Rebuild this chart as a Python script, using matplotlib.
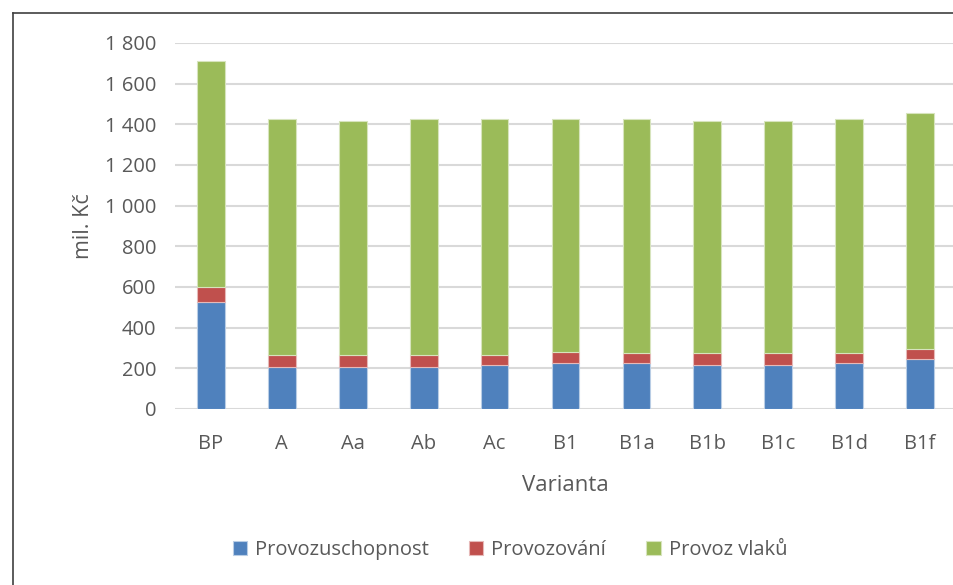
import numpy as np
import matplotlib.pyplot as plt
from matplotlib.lines import Line2D

varianty = ['BP', 'A', 'Aa', 'Ab', 'Ac', 'B1', 'B1a', 'B1b', 'B1c', 'B1d', 'B1f']
provozuschopnost = [525, 208, 208, 208, 218, 228, 228, 218, 218, 228, 246]
provozovani = [77, 59, 59, 59, 49, 51, 49, 59, 59, 49, 51]
celkem = [1712, 1427, 1418, 1427, 1427, 1427, 1427, 1418, 1418, 1427, 1456]
provoz_vlaku = [c - a - b for c, a, b in zip(celkem, provozuschopnost, provozovani)]
yticks = [0, 200, 400, 600, 800, 1000, 1200, 1400, 1600, 1800]

plt.rcParams['font.family'] = ['Open Sans', 'DejaVu Sans']
txt = '#595959'

fig = plt.figure(figsize=(9.54, 5.85), dpi=100)
ax = fig.add_axes([175.5 / 954, 1 - 409 / 585, (955.5 - 175.5) / 954, 366 / 585])

x = np.arange(len(varianty))
w = 0.39
bottom2 = np.array(provozuschopnost) + np.array(provozovani)
ax.bar(x, provozuschopnost, w, color='#4f81bd', edgecolor='#b9cde5', lw=0.8, label='Provozuschopnost', zorder=3)
ax.bar(x, provozovani, w, bottom=provozuschopnost, color='#c0504d', edgecolor='#e6b9b8', lw=0.8, label='Provozování', zorder=3)
ax.bar(x, provoz_vlaku, w, bottom=bottom2, color='#9bbb59', edgecolor='#d7e4bd', lw=0.8, label='Provoz vlaků', zorder=3)

ax.set_xlim(-0.5, len(varianty) - 0.5)
ax.set_ylim(0, 1800)
ax.set_yticks(yticks)
ax.set_yticklabels([f'{v:,}'.replace(',', ' ') for v in yticks])
ax.set_xticks(x)
ax.set_xticklabels(varianty)
ax.yaxis.grid(True, color='#d9d9d9', lw=1.5, zorder=0)
ax.tick_params(length=0, colors=txt, labelsize=14.5)
ax.tick_params(axis='y', pad=14)
ax.tick_params(axis='x', pad=18)
for s in ax.spines.values():
    s.set_visible(False)

ax.set_ylabel('mil. Kč', color=txt, fontsize=15.5, labelpad=8)
ax.set_xlabel('Varianta', color=txt, fontsize=16, labelpad=15)

ax.legend(loc='center', bbox_to_anchor=(510 / 954, 1 - 550 / 585), bbox_transform=fig.transFigure,
          ncol=3, frameon=False, fontsize=14.5, labelcolor=txt, handlelength=0.7, handleheight=0.7,
          handletextpad=0.4, columnspacing=2.0)

fig.add_artist(Line2D([13 / 954, 13 / 954], [0, 1 - 13 / 585], color='#404040', lw=1.2))
fig.add_artist(Line2D([13 / 954, 1], [1 - 13 / 585, 1 - 13 / 585], color='#404040', lw=1.2))

fig.savefig('out.png', dpi=100)
